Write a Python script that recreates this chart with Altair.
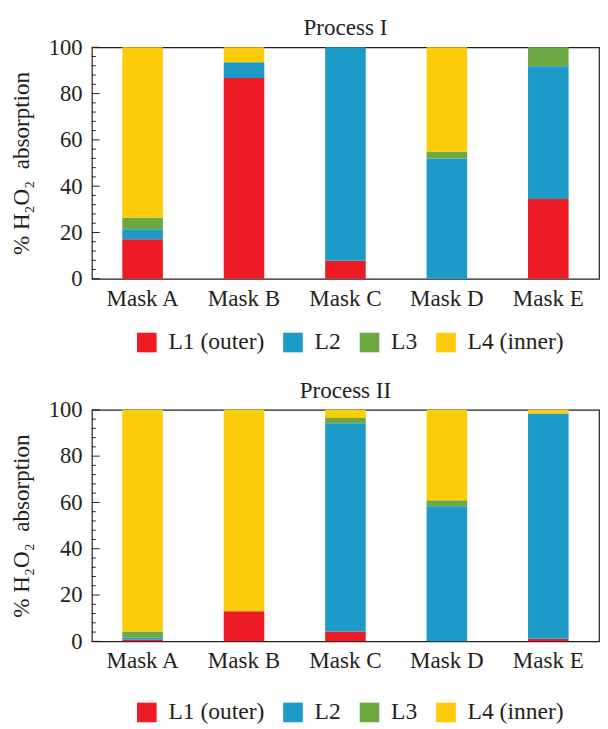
import altair as alt
import pandas as pd

FONT = "Liberation Serif, Times New Roman, serif"
INK = "#231f20"

masks = ["Mask A", "Mask B", "Mask C", "Mask D", "Mask E"]
layers = ["L1 (outer)", "L2", "L3", "L4 (inner)"]
colors = ["#ED1C24", "#1C9AC8", "#6DA942", "#FCCB09"]

# Process I (% of H2O2 absorbed in each layer)
p1_L1 = [17.1, 86.7, 7.8, 0.0, 34.5]
p1_L2 = [4.3, 6.8, 92.2, 51.9, 57.3]
p1_L3 = [5.0, 0.0, 0.0, 3.0, 8.2]
p1_L4 = [73.6, 6.5, 0.0, 45.1, 0.0]

# Process II
p2_L1 = [0.8, 13.0, 4.2, 0.0, 1.1]
p2_L2 = [0.9, 0.0, 90.0, 58.4, 97.3]
p2_L3 = [2.5, 0.0, 2.3, 2.5, 0.0]
p2_L4 = [95.8, 87.0, 3.5, 39.1, 1.6]

major_ticks = [0, 20, 40, 60, 80, 100]
minor_ticks = [4, 8, 12, 16, 24, 28, 32, 36, 44, 48, 52, 56,
               64, 68, 72, 76, 84, 88, 92, 96]

Y_TITLE = "% H\u2082O\u2082 \u00a0absorption"

Y_AXIS = alt.Axis(title=Y_TITLE, values=major_ticks, ticks=False,
                  domain=False, grid=False, labelPadding=10,
                  labelFontSize=23, labelFont=FONT, labelColor=INK,
                  titleFont=FONT, titleFontSize=23.5, titleColor=INK,
                  titleFontWeight="normal", titlePadding=15)
Y_SCALE = alt.Scale(domain=[0, 100], nice=False)


def panel(title, series, legend_y):
    rows = []
    for li, (lname, vals) in enumerate(zip(layers, series)):
        for m, v in zip(masks, vals):
            rows.append({"mask": m, "layer": lname, "order": li, "value": v})
    df = pd.DataFrame(rows)

    bars = alt.Chart(df).mark_bar().encode(
        x=alt.X("mask:N", sort=masks,
                scale=alt.Scale(paddingInner=0.6, paddingOuter=0.3),
                axis=alt.Axis(title=None, labelAngle=0, ticks=False, domain=False,
                              labelPadding=8, labelFontSize=23.5, labelFont=FONT,
                              labelColor=INK)),
        y=alt.Y("value:Q", stack="zero", scale=Y_SCALE, axis=Y_AXIS, title=Y_TITLE),
        color=alt.Color("layer:N",
                        scale=alt.Scale(domain=layers, range=colors),
                        legend=alt.Legend(orient="none", legendX=44, legendY=legend_y,
                                          direction="horizontal", title=None,
                                          symbolType="square", symbolSize=400,
                                          symbolStrokeWidth=0, symbolOpacity=1,
                                          labelFontSize=24, labelFont=FONT,
                                          labelColor=INK, labelOffset=10,
                                          columnPadding=17, labelLimit=300)),
        order=alt.Order("order:Q", sort="ascending"),
    )

    tmaj = alt.Chart(pd.DataFrame({"t": major_ticks})).mark_rule(
        color=INK, strokeWidth=1).encode(
        y=alt.Y("t:Q", scale=Y_SCALE, axis=Y_AXIS, title=Y_TITLE),
        x=alt.value(0), x2=alt.value(8))
    tmin = alt.Chart(pd.DataFrame({"t": minor_ticks})).mark_rule(
        color=INK, strokeWidth=1).encode(
        y=alt.Y("t:Q", scale=Y_SCALE, axis=Y_AXIS, title=Y_TITLE),
        x=alt.value(0), x2=alt.value(4))

    return alt.layer(bars, tmaj, tmin).properties(
        width=517, height=236,
        title=alt.TitleParams(title, font=FONT, fontSize=23.5, fontWeight="normal",
                              color=INK, anchor="middle", offset=-3),
    )


top = panel("Process I", [p1_L1, p1_L2, p1_L3, p1_L4], 289)
bottom = panel("Process II", [p2_L1, p2_L2, p2_L3, p2_L4], 296.5)

chart = alt.vconcat(top, bottom, spacing=22.6).resolve_scale(
    color="independent").properties(
    padding={"left": 0.5, "top": 0, "right": 0, "bottom": 0}
).configure(background="white").configure_view(stroke=INK, strokeWidth=1.2)

chart.save("out.html", embed_options={"renderer": "svg", "actions": False})
